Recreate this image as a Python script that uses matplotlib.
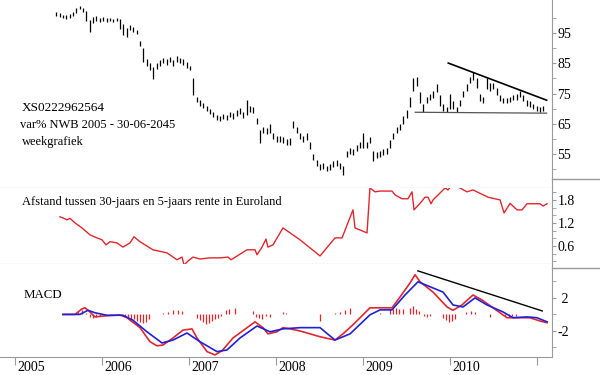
#!/usr/bin/env python3
"""Weekgrafiek XS0222962564 met rentespread en MACD."""

import matplotlib

matplotlib.use("Agg")
import matplotlib.pyplot as plt
import matplotlib.transforms as mtransforms
import numpy as np
import pandas as pd
from matplotlib.lines import Line2D

# koersdata, tweewekelijkse bars (hoog / laag)
start_date = "2005-06-24"
hi = [102.0, 101.6, 101.0, 100.9, 101.4, 101.9, 103.2, 104.0, 103.5, 102.2,
      99.5, 100.3, 100.6, 100.2, 100.4, 99.9, 100.2, 99.8, 100.1, 99.7,
      98.0, 96.8, 97.8, 97.2, 96.2, 92.5, 90.0, 86.5, 85.0, 83.8,
      85.0, 86.0, 86.8, 86.3, 87.0, 86.0, 87.5, 86.8, 86.4, 85.3,
      84.2, 80.0, 74.0, 73.0, 72.0, 71.0, 70.0, 69.0, 68.0, 67.4,
      68.3, 68.0, 69.0, 68.4, 69.6, 70.2, 69.0, 73.0, 71.0, 70.5,
      67.0, 63.0, 64.0, 63.5, 65.0, 62.0, 61.0, 61.0, 60.5, 60.0,
      60.2, 66.0, 64.0, 62.0, 61.0, 62.0, 59.0, 55.0, 53.0, 51.5,
      52.0, 51.0, 51.5, 52.5, 53.0, 52.0, 51.0, 56.0, 57.0, 56.5,
      58.0, 59.0, 62.0, 59.0, 60.5, 56.0, 55.5, 56.0, 56.5, 57.0,
      59.5, 62.0, 64.0, 65.0, 67.5, 69.5, 74.0, 80.0, 80.5, 75.5,
      71.5, 74.0, 75.0, 76.0, 78.0, 74.5, 71.5, 70.5, 75.0, 72.5,
      70.5, 73.0, 76.0, 78.0, 80.5, 82.0, 80.0, 75.0, 74.0, 80.0,
      78.5, 78.5, 77.0, 74.5, 73.5, 73.5, 74.0, 74.5, 75.0, 76.0,
      74.5, 73.0, 72.5, 71.5, 71.0, 70.5, 71.0]
lo = [100.8, 100.4, 99.9, 99.8, 100.2, 100.7, 101.8, 102.9, 101.9, 99.0,
      95.5, 98.3, 99.2, 98.8, 99.2, 98.7, 99.0, 98.6, 98.9, 96.5,
      94.5, 93.8, 96.0, 95.4, 94.6, 90.8, 85.5, 84.0, 82.8, 79.8,
      83.0, 84.2, 85.2, 84.6, 85.3, 84.0, 85.6, 85.0, 84.6, 83.6,
      82.8, 74.5, 72.2, 71.0, 70.2, 69.2, 68.2, 67.2, 66.2, 65.8,
      66.6, 66.3, 67.2, 66.7, 67.6, 68.2, 67.0, 68.0, 69.0, 68.5,
      65.0, 58.5, 62.0, 61.5, 62.0, 60.0, 59.0, 59.0, 58.5, 58.0,
      58.0, 63.5, 62.0, 60.0, 59.0, 59.5, 56.5, 53.0, 51.0, 49.5,
      50.0, 49.2, 49.5, 50.5, 51.0, 50.0, 48.0, 54.0, 55.0, 54.5,
      56.0, 57.0, 57.0, 57.0, 58.5, 52.5, 53.5, 54.0, 54.5, 55.0,
      57.0, 60.0, 62.0, 63.0, 65.0, 67.0, 70.5, 76.0, 77.5, 72.0,
      68.8, 72.0, 73.0, 73.5, 75.5, 71.0, 69.3, 68.8, 70.0, 70.0,
      68.8, 71.0, 74.0, 76.0, 78.5, 79.5, 77.0, 72.5, 72.0, 76.5,
      76.0, 76.5, 74.5, 72.5, 71.8, 71.8, 72.2, 72.8, 73.0, 74.0,
      72.5, 71.0, 70.5, 69.8, 69.2, 68.8, 69.2]

# trendlijnen in koersgrafiek en MACD
resist_t = [2009.98, 2011.11]
resist_v = [85.1, 72.8]
support_t = [2009.60, 2011.11]
support_v = [68.8, 68.5]
macd_trend_t = [2009.63, 2011.06]
macd_trend_v = [5.27, 0.42]

# afstand 30-jaars minus 5-jaars rente
spread_t = [2005.517, 2005.552, 2005.598, 2005.632, 2005.690, 2005.770, 2005.862,
            2005.943, 2006.000, 2006.046, 2006.092, 2006.172, 2006.241, 2006.322,
            2006.368, 2006.437, 2006.586, 2006.747, 2006.862, 2006.920, 2006.943,
            2006.989, 2007.046, 2007.126, 2007.241, 2007.356, 2007.448, 2007.483,
            2007.667, 2007.759, 2007.782, 2007.839, 2007.885, 2007.908, 2007.966,
            2008.080, 2008.276, 2008.506, 2008.678, 2008.759, 2008.885, 2008.908,
            2009.046, 2009.080, 2009.138, 2009.195, 2009.333, 2009.368, 2009.448,
            2009.517, 2009.563, 2009.586, 2009.655, 2009.713, 2009.747, 2009.782,
            2009.805, 2009.943, 2009.977, 2010.023, 2010.115, 2010.195, 2010.264,
            2010.437, 2010.575, 2010.621, 2010.690, 2010.770, 2010.828, 2010.885,
            2011.034, 2011.069, 2011.115]
spread_v = [1.36, 1.33, 1.28, 1.32, 1.20, 1.07, 0.89,
            0.81, 0.76, 0.63, 0.71, 0.68, 0.57, 0.68,
            0.84, 0.71, 0.50, 0.42, 0.24, 0.31, 0.10,
            0.21, 0.31, 0.26, 0.29, 0.29, 0.31, 0.24,
            0.50, 0.50, 0.37, 0.57, 0.78, 0.57, 0.63,
            1.07, 0.76, 0.34, 0.81, 0.81, 1.54, 1.07,
            0.94, 2.11, 2.01, 2.03, 2.03, 1.93, 1.83,
            1.83, 2.01, 1.54, 1.71, 1.87, 1.87, 1.70,
            1.80, 2.11, 2.06, 2.19, 2.11, 2.01, 2.06,
            1.87, 1.80, 1.46, 1.71, 1.54, 1.54, 1.70,
            1.70, 1.64, 1.70]

# MACD (rood) en signaallijn (blauw)
macd_t = [2005.552, 2005.690, 2005.770, 2005.805, 2005.862, 2005.920, 2006.011,
          2006.207, 2006.287, 2006.437, 2006.552, 2006.632, 2006.701, 2006.816,
          2006.931, 2007.034, 2007.092, 2007.207, 2007.299, 2007.379, 2007.506,
          2007.667, 2007.759, 2007.851, 2007.908, 2008.011, 2008.080, 2008.161,
          2008.276, 2008.506, 2008.678, 2008.770, 2008.885, 2009.080, 2009.333,
          2009.425, 2009.540, 2009.598, 2009.655, 2009.805, 2009.966, 2010.034,
          2010.138, 2010.264, 2010.368, 2010.494, 2010.655, 2010.782, 2010.920,
          2011.034, 2011.115]
macd_v = [0.0, 0.0, 0.67, 0.8, 0.3, -0.3, -0.2,
          -0.06, -0.4, -1.6, -3.3, -3.8, -3.7, -2.85,
          -1.9, -1.75, -2.85, -4.5, -4.9, -4.4, -2.85,
          -1.6, -0.9, -1.6, -2.35, -2.1, -1.6, -1.75,
          -2.0, -2.7, -3.1, -2.35, -1.25, 0.8, 0.8,
          2.1, 3.8, 4.8, 3.95, 2.7, 0.9, 0.5,
          1.15, 2.35, 1.75, 0.8, -0.4, -0.4, -0.4,
          -0.8, -1.0]
signal_t = [2005.552, 2005.747, 2005.839, 2005.920, 2006.057, 2006.241, 2006.356,
            2006.517, 2006.690, 2006.816, 2006.977, 2007.126, 2007.322, 2007.437,
            2007.586, 2007.782, 2007.931, 2008.080, 2008.276, 2008.506, 2008.678,
            2008.851, 2009.080, 2009.195, 2009.333, 2009.483, 2009.632, 2009.920,
            2010.034, 2010.149, 2010.287, 2010.425, 2010.609, 2010.724, 2010.885,
            2011.000, 2011.115]
signal_v = [0.0, 0.0, 0.5, 0.2, -0.1, -0.1, -0.7,
            -2.1, -3.45, -3.1, -2.25, -3.3, -4.5, -4.3,
            -2.85, -1.4, -2.1, -1.75, -1.6, -1.6, -3.1,
            -2.35, -0.05, 0.55, 0.55, 2.35, 3.95, 2.7,
            1.15, 0.9, 2.0, 1.15, 0.3, -0.4, -0.3,
            -0.4, -0.9]
hist_t = [2005.724, 2005.770, 2005.816, 2005.862, 2005.897, 2005.931, 2005.977,
          2006.264, 2006.299, 2006.333, 2006.368, 2006.402, 2006.437, 2006.471,
          2006.506, 2006.540, 2006.701, 2006.759, 2006.816, 2006.874, 2006.920,
          2007.092, 2007.126, 2007.161, 2007.195, 2007.230, 2007.264, 2007.299,
          2007.333, 2007.368, 2007.425, 2007.460, 2007.529, 2007.736, 2007.770,
          2007.805, 2007.839, 2007.885, 2007.931, 2008.080, 2008.115, 2008.506,
          2008.678, 2008.736, 2008.793, 2008.851, 2009.195, 2009.310, 2009.345,
          2009.379, 2009.414, 2009.460, 2009.540, 2009.575, 2009.609, 2009.644,
          2009.701, 2009.736, 2009.770, 2009.920, 2009.954, 2009.989, 2010.023,
          2010.057, 2010.184, 2010.241, 2010.287, 2010.460, 2010.632, 2010.678,
          2010.713, 2010.759, 2010.805, 2010.851, 2010.920, 2010.989, 2011.057,
          2011.103]
hist_v = [0.3, 0.5, 0.2, -0.3, -0.4, -0.3, -0.2,
          -0.2, -0.3, -0.5, -0.6, -0.8, -0.9, -1.0,
          -0.9, -0.6, 0.2, 0.3, 0.5, 0.5, 0.4,
          -0.4, -0.7, -0.9, -1.1, -1.0, -0.8, -0.6,
          -0.4, -0.2, 0.5, 0.6, 0.8, 0.4, -0.3,
          -0.4, -0.5, -0.2, -0.3, 0.3, 0.2, -0.8,
          0.2, 0.3, 0.5, 0.8, 0.2, 0.6, 0.7,
          0.8, 0.6, 0.7, 0.8, 1.0, 0.7, 0.4,
          -0.2, -0.3, -0.2, -0.4, -0.7, -0.9, -0.8,
          -0.6, 0.3, 0.4, 0.3, -0.3, -0.2, -0.3,
          -0.2, -0.2, 0.1, 0.1, 0.1, 0.1, 0.1,
          0.1]

years = [2005, 2006, 2007, 2008, 2009, 2010, 2011]
year_labels = ["2005", "2006", "2007", "2008", "2009", "2010", ""]

RED = "#e3262c"
BLUE = "#2020d8"
GRAY = "#9a9a9a"

plt.rcParams["font.family"] = ["Liberation Serif", "DejaVu Serif"]
plt.rcParams["font.size"] = 10


def decimal_year(dates):
    d = pd.DatetimeIndex(dates)
    return d.year + (d.dayofyear - 1) / 365.25


def style_axis(ax):
    for side in ("top", "left"):
        ax.spines[side].set_visible(False)
    ax.spines["right"].set_color(GRAY)
    ax.spines["bottom"].set_color(GRAY)
    ax.yaxis.tick_right()
    ax.tick_params(axis="y", which="both", direction="out", length=3,
                   color=GRAY, pad=1, labelsize=10)
    ax.tick_params(axis="x", which="both", bottom=False, labelbottom=False)
    ax.set_xlim(2004.828, 2011.172)


def main():
    fig = plt.figure(figsize=(6, 3.75), dpi=100)
    W = 552 / 600
    ax_p = fig.add_axes([0, 1 - 188 / 375, W, 188 / 375])
    ax_s = fig.add_axes([0, 1 - 264 / 375, W, 76 / 375])
    ax_m = fig.add_axes([0, 1 - 357 / 375, W, 93 / 375])

    # koers
    t_price = decimal_year(pd.date_range(start_date, periods=len(hi), freq="14D"))
    ax_p.vlines(t_price, lo, hi, color="black", linewidth=0.9)
    ax_p.plot(resist_t, resist_v, color="black", linewidth=1.2)
    ax_p.plot(support_t, support_v, color="#555555", linewidth=0.9)
    ax_p.set_ylim(43.7, 106)
    ax_p.set_yticks([95, 85, 75, 65, 55])
    ax_p.set_yticks(np.arange(50, 105, 5), minor=True)
    style_axis(ax_p)
    ax_p.text(0.040, 1 - 108 / 188, "XS0222962564", transform=ax_p.transAxes,
              va="center", fontsize=9.5)
    ax_p.text(0.036, 1 - 125 / 188, "var% NWB 2005 - 30-06-2045", transform=ax_p.transAxes,
              va="center", fontsize=9)
    ax_p.text(0.040, 1 - 142 / 188, "weekgrafiek", transform=ax_p.transAxes,
              va="center", fontsize=9)

    # rentespread
    ax_s.plot(spread_t, spread_v, color=RED, linewidth=1.0)
    ax_s.set_ylim(0.13, 2.11)
    ax_s.set_yticks([1.8, 1.2, 0.6])
    ax_s.set_yticks(np.arange(0.2, 2.2, 0.2), minor=True)
    style_axis(ax_s)
    ax_s.text(0.040, 1 - 14 / 76, "Afstand tussen 30-jaars en 5-jaars rente in Euroland",
              transform=ax_s.transAxes, va="center", fontsize=9)

    # MACD
    ax_m.vlines(hist_t, 0, hist_v, color=RED, linewidth=0.9)
    ax_m.plot(macd_t, macd_v, color=RED, linewidth=1.2)
    ax_m.plot(signal_t, signal_v, color=BLUE, linewidth=1.2)
    ax_m.plot(macd_trend_t, macd_trend_v, color="black", linewidth=1.0)
    ax_m.set_ylim(-5.15, 6.1)
    ax_m.set_yticks([2, -2])
    ax_m.set_yticklabels([" 2", "-2"])
    ax_m.set_yticks([-4, 0, 4], minor=True)
    style_axis(ax_m)
    ax_m.set_xticks(years)
    ax_m.set_xticklabels(year_labels)
    ax_m.tick_params(axis="x", which="major", bottom=True, labelbottom=True,
                     direction="out", length=6, color=GRAY, pad=-3, labelsize=10)
    shift = mtransforms.ScaledTranslation(2 / 72, 0, fig.dpi_scale_trans)
    for lbl in ax_m.get_xticklabels():
        lbl.set_horizontalalignment("left")
        lbl.set_transform(lbl.get_transform() + shift)
    ax_m.text(0.043, 1 - 31 / 93, "MACD", transform=ax_m.transAxes,
              va="center", fontsize=9.3)

    # scheidingslijnen rechts van de grafiek
    for y_px in (179, 268):
        fig.add_artist(Line2D([W, 1.0], [1 - y_px / 375, 1 - y_px / 375],
                              color=GRAY, linewidth=1.0))

    fig.savefig("out.png", dpi=100)
    plt.close(fig)


if __name__ == "__main__":
    main()
